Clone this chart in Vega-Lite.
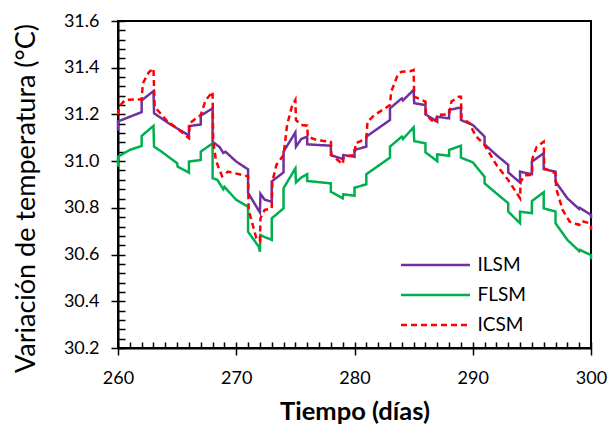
{
  "$schema": "https://vega.github.io/schema/vega-lite/v6.json",
  "width": 473,
  "height": 327,
  "autosize": {"type": "none"},
  "padding": {"left": 118, "top": 21, "right": 18, "bottom": 79},
  "background": "white",
  "config": {
    "view": {"stroke": "black", "strokeWidth": 2},
    "font": "Lato",
    "axis": {"grid": false, "labelFont": "Lato", "titleFont": "Lato", "labelColor": "black", "titleColor": "black", "tickColor": "black", "domainColor": "black"}
  },
  "data": {
    "values": [
      {"s":"ILSM","o":0,"d":260,"t":31.13},{"s":"ILSM","o":1,"d":260,"t":31.17},{"s":"ILSM","o":2,"d":262,"t":31.21},{"s":"ILSM","o":3,"d":262,"t":31.26},{"s":"ILSM","o":4,"d":263,"t":31.30},{"s":"ILSM","o":5,"d":263.05,"t":31.205},{"s":"ILSM","o":6,"d":264.5,"t":31.155},{"s":"ILSM","o":7,"d":266,"t":31.11},{"s":"ILSM","o":8,"d":266,"t":31.15},{"s":"ILSM","o":9,"d":267,"t":31.157},{"s":"ILSM","o":10,"d":267,"t":31.195},{"s":"ILSM","o":11,"d":268,"t":31.226},{"s":"ILSM","o":12,"d":268,"t":31.083},{"s":"ILSM","o":13,"d":268.6,"t":31.06},{"s":"ILSM","o":14,"d":268.9,"t":31.035},{"s":"ILSM","o":15,"d":269.1,"t":31.04},{"s":"ILSM","o":16,"d":270,"t":30.998},{"s":"ILSM","o":17,"d":271,"t":30.965},{"s":"ILSM","o":18,"d":271,"t":30.865},{"s":"ILSM","o":19,"d":272,"t":30.78},{"s":"ILSM","o":20,"d":272.05,"t":30.86},{"s":"ILSM","o":21,"d":272.4,"t":30.835},{"s":"ILSM","o":22,"d":273,"t":30.826},{"s":"ILSM","o":23,"d":273,"t":30.913},{"s":"ILSM","o":24,"d":274,"t":30.952},{"s":"ILSM","o":25,"d":274,"t":31.041},{"s":"ILSM","o":26,"d":275,"t":31.123},{"s":"ILSM","o":27,"d":275.05,"t":31.062},{"s":"ILSM","o":28,"d":275.5,"t":31.095},{"s":"ILSM","o":29,"d":276,"t":31.105},{"s":"ILSM","o":30,"d":276,"t":31.072},{"s":"ILSM","o":31,"d":278,"t":31.066},{"s":"ILSM","o":32,"d":278,"t":31.026},{"s":"ILSM","o":33,"d":279,"t":31.009},{"s":"ILSM","o":34,"d":279.05,"t":31.026},{"s":"ILSM","o":35,"d":280,"t":31.019},{"s":"ILSM","o":36,"d":280,"t":31.048},{"s":"ILSM","o":37,"d":281,"t":31.062},{"s":"ILSM","o":38,"d":281,"t":31.105},{"s":"ILSM","o":39,"d":283,"t":31.176},{"s":"ILSM","o":40,"d":283,"t":31.226},{"s":"ILSM","o":41,"d":284,"t":31.269},{"s":"ILSM","o":42,"d":284.1,"t":31.26},{"s":"ILSM","o":43,"d":285,"t":31.305},{"s":"ILSM","o":44,"d":285.05,"t":31.248},{"s":"ILSM","o":45,"d":286,"t":31.24},{"s":"ILSM","o":46,"d":286,"t":31.2},{"s":"ILSM","o":47,"d":287,"t":31.169},{"s":"ILSM","o":48,"d":287,"t":31.19},{"s":"ILSM","o":49,"d":288,"t":31.183},{"s":"ILSM","o":50,"d":288,"t":31.219},{"s":"ILSM","o":51,"d":289,"t":31.23},{"s":"ILSM","o":52,"d":289,"t":31.176},{"s":"ILSM","o":53,"d":290,"t":31.155},{"s":"ILSM","o":54,"d":291,"t":31.105},{"s":"ILSM","o":55,"d":291,"t":31.072},{"s":"ILSM","o":56,"d":292,"t":31.026},{"s":"ILSM","o":57,"d":293,"t":30.984},{"s":"ILSM","o":58,"d":293,"t":30.952},{"s":"ILSM","o":59,"d":294,"t":30.908},{"s":"ILSM","o":60,"d":294,"t":30.955},{"s":"ILSM","o":61,"d":295,"t":30.944},{"s":"ILSM","o":62,"d":295,"t":30.998},{"s":"ILSM","o":63,"d":296,"t":31.034},{"s":"ILSM","o":64,"d":296,"t":30.966},{"s":"ILSM","o":65,"d":297,"t":30.955},{"s":"ILSM","o":66,"d":297,"t":30.912},{"s":"ILSM","o":67,"d":298,"t":30.841},{"s":"ILSM","o":68,"d":299,"t":30.795},{"s":"ILSM","o":69,"d":299.05,"t":30.8},{"s":"ILSM","o":70,"d":300,"t":30.77},{"s":"ILSM","o":71,"d":300,"t":30.755},
      {"s":"FLSM","o":0,"d":260,"t":30.976},{"s":"FLSM","o":1,"d":260,"t":31.019},{"s":"FLSM","o":2,"d":261,"t":31.048},{"s":"FLSM","o":3,"d":262,"t":31.065},{"s":"FLSM","o":4,"d":262,"t":31.108},{"s":"FLSM","o":5,"d":263,"t":31.151},{"s":"FLSM","o":6,"d":263.05,"t":31.062},{"s":"FLSM","o":7,"d":263.7,"t":31.04},{"s":"FLSM","o":8,"d":265,"t":30.991},{"s":"FLSM","o":9,"d":265.05,"t":30.976},{"s":"FLSM","o":10,"d":266,"t":30.951},{"s":"FLSM","o":11,"d":266,"t":30.998},{"s":"FLSM","o":12,"d":267,"t":31.005},{"s":"FLSM","o":13,"d":267,"t":31.041},{"s":"FLSM","o":14,"d":268,"t":31.076},{"s":"FLSM","o":15,"d":268,"t":30.927},{"s":"FLSM","o":16,"d":268.4,"t":30.92},{"s":"FLSM","o":17,"d":268.9,"t":30.88},{"s":"FLSM","o":18,"d":269,"t":30.89},{"s":"FLSM","o":19,"d":270,"t":30.834},{"s":"FLSM","o":20,"d":271,"t":30.805},{"s":"FLSM","o":21,"d":271,"t":30.698},{"s":"FLSM","o":22,"d":271.9,"t":30.634},{"s":"FLSM","o":23,"d":272,"t":30.612},{"s":"FLSM","o":24,"d":272.05,"t":30.684},{"s":"FLSM","o":25,"d":272.4,"t":30.675},{"s":"FLSM","o":26,"d":273,"t":30.663},{"s":"FLSM","o":27,"d":273,"t":30.755},{"s":"FLSM","o":28,"d":274,"t":30.798},{"s":"FLSM","o":29,"d":274,"t":30.884},{"s":"FLSM","o":30,"d":275,"t":30.969},{"s":"FLSM","o":31,"d":275.05,"t":30.909},{"s":"FLSM","o":32,"d":275.5,"t":30.93},{"s":"FLSM","o":33,"d":276,"t":30.944},{"s":"FLSM","o":34,"d":276,"t":30.915},{"s":"FLSM","o":35,"d":278,"t":30.905},{"s":"FLSM","o":36,"d":278,"t":30.869},{"s":"FLSM","o":37,"d":279,"t":30.841},{"s":"FLSM","o":38,"d":279.05,"t":30.858},{"s":"FLSM","o":39,"d":280,"t":30.852},{"s":"FLSM","o":40,"d":280,"t":30.886},{"s":"FLSM","o":41,"d":281,"t":30.901},{"s":"FLSM","o":42,"d":281,"t":30.944},{"s":"FLSM","o":43,"d":283,"t":31.015},{"s":"FLSM","o":44,"d":283,"t":31.062},{"s":"FLSM","o":45,"d":284,"t":31.105},{"s":"FLSM","o":46,"d":284.1,"t":31.095},{"s":"FLSM","o":47,"d":285,"t":31.145},{"s":"FLSM","o":48,"d":285.05,"t":31.086},{"s":"FLSM","o":49,"d":286,"t":31.076},{"s":"FLSM","o":50,"d":286,"t":31.038},{"s":"FLSM","o":51,"d":287,"t":31.0},{"s":"FLSM","o":52,"d":287,"t":31.029},{"s":"FLSM","o":53,"d":288,"t":31.023},{"s":"FLSM","o":54,"d":288,"t":31.048},{"s":"FLSM","o":55,"d":289,"t":31.066},{"s":"FLSM","o":56,"d":289,"t":31.015},{"s":"FLSM","o":57,"d":290,"t":30.995},{"s":"FLSM","o":58,"d":291,"t":30.933},{"s":"FLSM","o":59,"d":291,"t":30.905},{"s":"FLSM","o":60,"d":292,"t":30.862},{"s":"FLSM","o":61,"d":293,"t":30.82},{"s":"FLSM","o":62,"d":293,"t":30.784},{"s":"FLSM","o":63,"d":294,"t":30.734},{"s":"FLSM","o":64,"d":294,"t":30.784},{"s":"FLSM","o":65,"d":295,"t":30.777},{"s":"FLSM","o":66,"d":295,"t":30.829},{"s":"FLSM","o":67,"d":296,"t":30.867},{"s":"FLSM","o":68,"d":296,"t":30.798},{"s":"FLSM","o":69,"d":297,"t":30.784},{"s":"FLSM","o":70,"d":297,"t":30.734},{"s":"FLSM","o":71,"d":298,"t":30.663},{"s":"FLSM","o":72,"d":299,"t":30.615},{"s":"FLSM","o":73,"d":299.05,"t":30.62},{"s":"FLSM","o":74,"d":300,"t":30.598},{"s":"FLSM","o":75,"d":300,"t":30.58},
      {"s":"ICSM","o":0,"d":260,"t":31.198},{"s":"ICSM","o":1,"d":260.1,"t":31.233},{"s":"ICSM","o":2,"d":260.6,"t":31.262},{"s":"ICSM","o":3,"d":262,"t":31.265},{"s":"ICSM","o":4,"d":262.1,"t":31.333},{"s":"ICSM","o":5,"d":262.6,"t":31.38},{"s":"ICSM","o":6,"d":263,"t":31.397},{"s":"ICSM","o":7,"d":263.1,"t":31.233},{"s":"ICSM","o":8,"d":264.2,"t":31.169},{"s":"ICSM","o":9,"d":265,"t":31.141},{"s":"ICSM","o":10,"d":266,"t":31.098},{"s":"ICSM","o":11,"d":266.05,"t":31.162},{"s":"ICSM","o":12,"d":267,"t":31.198},{"s":"ICSM","o":13,"d":267.4,"t":31.26},{"s":"ICSM","o":14,"d":268,"t":31.297},{"s":"ICSM","o":15,"d":268.05,"t":31.083},{"s":"ICSM","o":16,"d":268.3,"t":31.0},{"s":"ICSM","o":17,"d":268.8,"t":30.935},{"s":"ICSM","o":18,"d":269.3,"t":30.955},{"s":"ICSM","o":19,"d":271,"t":30.935},{"s":"ICSM","o":20,"d":271.05,"t":30.79},{"s":"ICSM","o":21,"d":271.7,"t":30.67},{"s":"ICSM","o":22,"d":272,"t":30.658},{"s":"ICSM","o":23,"d":272.05,"t":30.755},{"s":"ICSM","o":24,"d":272.4,"t":30.791},{"s":"ICSM","o":25,"d":273,"t":30.798},{"s":"ICSM","o":26,"d":273.05,"t":30.912},{"s":"ICSM","o":27,"d":273.4,"t":30.984},{"s":"ICSM","o":28,"d":274,"t":31.026},{"s":"ICSM","o":29,"d":274.3,"t":31.155},{"s":"ICSM","o":30,"d":274.7,"t":31.233},{"s":"ICSM","o":31,"d":275,"t":31.262},{"s":"ICSM","o":32,"d":275.05,"t":31.176},{"s":"ICSM","o":33,"d":275.5,"t":31.155},{"s":"ICSM","o":34,"d":276,"t":31.152},{"s":"ICSM","o":35,"d":276.05,"t":31.105},{"s":"ICSM","o":36,"d":276.8,"t":31.09},{"s":"ICSM","o":37,"d":278,"t":31.083},{"s":"ICSM","o":38,"d":278.05,"t":31.026},{"s":"ICSM","o":39,"d":279,"t":30.987},{"s":"ICSM","o":40,"d":279.1,"t":31.02},{"s":"ICSM","o":41,"d":280,"t":31.026},{"s":"ICSM","o":42,"d":280.1,"t":31.076},{"s":"ICSM","o":43,"d":281,"t":31.098},{"s":"ICSM","o":44,"d":281.1,"t":31.169},{"s":"ICSM","o":45,"d":281.7,"t":31.198},{"s":"ICSM","o":46,"d":283,"t":31.24},{"s":"ICSM","o":47,"d":283.1,"t":31.297},{"s":"ICSM","o":48,"d":283.7,"t":31.375},{"s":"ICSM","o":49,"d":284,"t":31.383},{"s":"ICSM","o":50,"d":284.7,"t":31.385},{"s":"ICSM","o":51,"d":285,"t":31.39},{"s":"ICSM","o":52,"d":285.05,"t":31.276},{"s":"ICSM","o":53,"d":286,"t":31.255},{"s":"ICSM","o":54,"d":286.05,"t":31.198},{"s":"ICSM","o":55,"d":286.8,"t":31.162},{"s":"ICSM","o":56,"d":287,"t":31.198},{"s":"ICSM","o":57,"d":288,"t":31.2},{"s":"ICSM","o":58,"d":288.2,"t":31.255},{"s":"ICSM","o":59,"d":288.8,"t":31.276},{"s":"ICSM","o":60,"d":289,"t":31.276},{"s":"ICSM","o":61,"d":289.05,"t":31.183},{"s":"ICSM","o":62,"d":289.75,"t":31.162},{"s":"ICSM","o":63,"d":290,"t":31.133},{"s":"ICSM","o":64,"d":290.3,"t":31.105},{"s":"ICSM","o":65,"d":291,"t":31.069},{"s":"ICSM","o":66,"d":292,"t":30.984},{"s":"ICSM","o":67,"d":293,"t":30.919},{"s":"ICSM","o":68,"d":293.5,"t":30.88},{"s":"ICSM","o":69,"d":294,"t":30.841},{"s":"ICSM","o":70,"d":294.05,"t":30.912},{"s":"ICSM","o":71,"d":294.4,"t":30.94},{"s":"ICSM","o":72,"d":295,"t":30.941},{"s":"ICSM","o":73,"d":295.05,"t":31.012},{"s":"ICSM","o":74,"d":295.4,"t":31.06},{"s":"ICSM","o":75,"d":296,"t":31.083},{"s":"ICSM","o":76,"d":296.05,"t":30.969},{"s":"ICSM","o":77,"d":297,"t":30.948},{"s":"ICSM","o":78,"d":297.05,"t":30.884},{"s":"ICSM","o":79,"d":297.6,"t":30.791},{"s":"ICSM","o":80,"d":298.2,"t":30.741},{"s":"ICSM","o":81,"d":299,"t":30.727},{"s":"ICSM","o":82,"d":299.2,"t":30.744},{"s":"ICSM","o":83,"d":299.8,"t":30.735},{"s":"ICSM","o":84,"d":300,"t":30.727},{"s":"ICSM","o":85,"d":300,"t":30.705}
    ]
  },
  "resolve": {"axis": {"x": "independent", "y": "independent"}},
  "layer": [
    {
      "mark": {"type": "point", "opacity": 0},
      "encoding": {
        "x": {"field": "d", "type": "quantitative", "scale": {"domain": [260, 300], "nice": false, "zero": false},
              "axis": {"orient": "bottom", "values": [260,261,262,263,264,265,266,267,268,269,270,271,272,273,274,275,276,277,278,279,280,281,282,283,284,285,286,287,288,289,290,291,292,293,294,295,296,297,298,299,300], "tickSize": -6, "tickWidth": 1.5, "labels": false, "domain": false, "title": null}},
        "y": {"field": "t", "type": "quantitative", "scale": {"domain": [30.2, 31.6], "nice": false, "zero": false},
              "axis": {"orient": "left", "values": [30.2,30.24,30.28,30.32,30.36,30.4,30.44,30.48,30.52,30.56,30.6,30.64,30.68,30.72,30.76,30.8,30.84,30.88,30.92,30.96,31.0,31.04,31.08,31.12,31.16,31.2,31.24,31.28,31.32,31.36,31.4,31.44,31.48,31.52,31.56,31.6], "tickSize": -7, "tickWidth": 1.5, "labels": false, "domain": false, "title": null}}
      }
    },
    {
      "mark": {"type": "line", "strokeWidth": 2.5, "strokeJoin": "miter", "strokeCap": "butt"},
      "encoding": {
        "x": {"field": "d", "type": "quantitative", "scale": {"domain": [260, 300], "nice": false, "zero": false},
              "axis": {"orient": "bottom", "values": [260, 270, 280, 290, 300], "tickSize": 7, "tickWidth": 1.5, "domainWidth": 2, "labelFontSize": 18, "labelPadding": 14, "labelFlush": false, "title": "Tiempo (días)", "titleFontSize": 25.5, "titleFontWeight": "bold", "titleX": 236.5, "titleY": 63, "titleBaseline": "middle", "titleAlign": "center"}},
        "y": {"field": "t", "type": "quantitative", "scale": {"domain": [30.2, 31.6], "nice": false, "zero": false},
              "axis": {"orient": "left", "values": [30.2, 30.4, 30.6, 30.8, 31.0, 31.2, 31.4, 31.6], "format": ".1f", "tickSize": 7, "tickWidth": 1.5, "domainWidth": 2, "labelFontSize": 18, "labelPadding": 12, "title": "Variación de temperatura (°C)", "titleFontSize": 27, "titleFontWeight": "normal", "titleX": -92, "titleY": 177, "titleBaseline": "middle", "titleAlign": "center", "titleAngle": -90}},
        "color": {"field": "s", "type": "nominal", "scale": {"domain": ["ILSM", "FLSM", "ICSM"], "range": ["#7030A0", "#00B050", "#FF0000"]},
                  "legend": {"orient": "none", "legendX": 304.5, "legendY": 231, "title": null, "symbolType": "M-3,0H3", "symbolSize": 529, "symbolStrokeWidth": 2.5, "symbolFillColor": "transparent", "labelFontSize": 19, "labelColor": "black", "labelOffset": 29, "padding": 0, "rowPadding": 7}},
        "strokeDash": {"field": "s", "type": "nominal", "scale": {"domain": ["ILSM", "FLSM", "ICSM"], "range": [[1, 0], [1, 0], [6, 4]]},
                  "legend": {"orient": "none", "legendX": 304.5, "legendY": 231, "title": null, "symbolType": "M-3,0H3", "symbolSize": 529, "symbolStrokeWidth": 2.5, "symbolFillColor": "transparent", "labelFontSize": 19, "labelColor": "black", "labelOffset": 29, "padding": 0, "rowPadding": 7}},
        "order": {"field": "o", "type": "quantitative"}
      }
    }
  ]
}
